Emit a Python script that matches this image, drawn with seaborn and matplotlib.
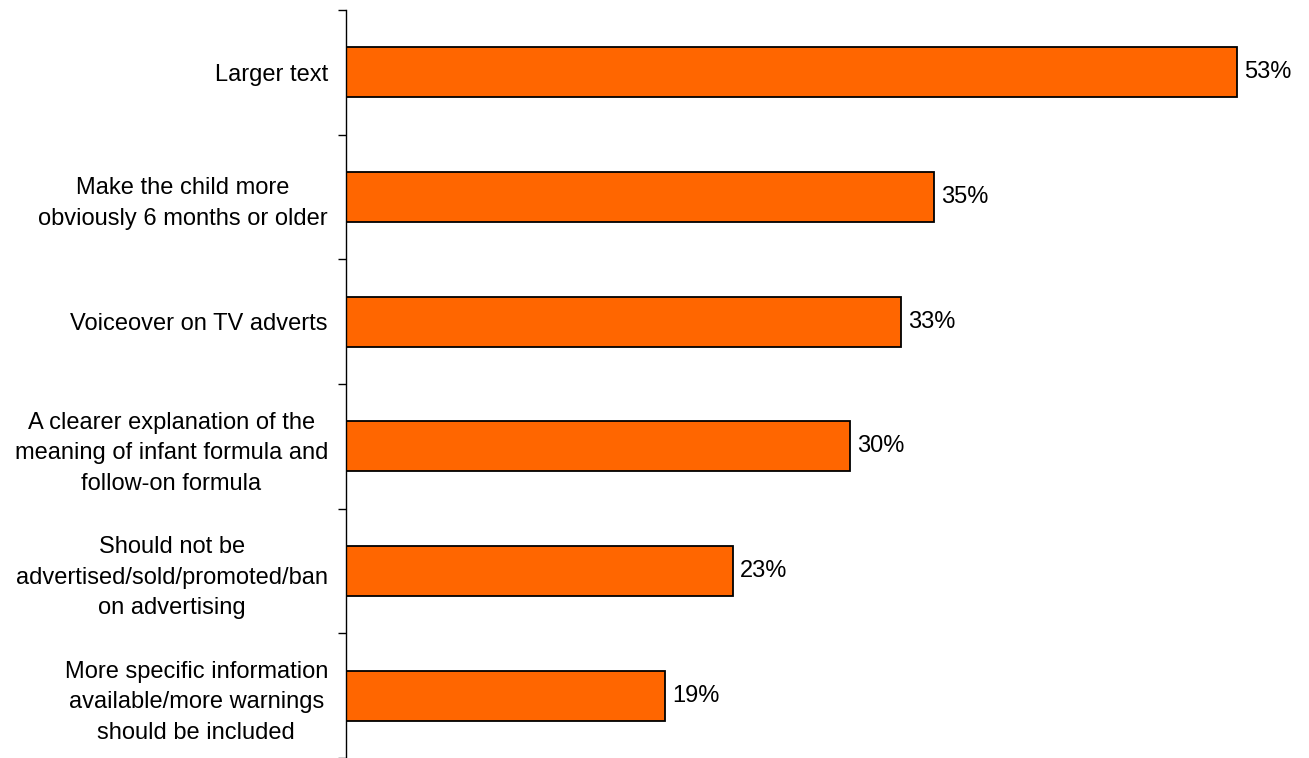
import matplotlib
matplotlib.use("Agg")
import matplotlib.pyplot as plt
import seaborn as sns
import pandas as pd
import numpy as np

categories = [
    "Larger text",
    "Make the child more\nobviously 6 months or older",
    "Voiceover on TV adverts",
    "A clearer explanation of the\nmeaning of infant formula and\nfollow-on formula",
    "Should not be\nadvertised/sold/promoted/ban\non advertising",
    "More specific information\navailable/more warnings\nshould be included",
]
values = [53, 35, 33, 30, 23, 19]

sns.set_theme(style="white")
plt.rcParams["font.family"] = ["Liberation Sans", "DejaVu Sans"]

df = pd.DataFrame({"category": categories, "value": values})

fig = plt.figure(figsize=(13.09, 7.58), dpi=100)
ax = fig.add_axes([346 / 1309, 0.0, (1300 - 346) / 1309, 1 - 10 / 758])

sns.barplot(data=df, x="value", y="category", orient="h", color="#FF6600",
            saturation=1, edgecolor="black", linewidth=1.3, width=0.4, ax=ax)

ax.set_xlim(0, (1300 - 346) / ((1237 - 346) / 53))
ax.set_ylim(len(categories) - 0.5, -0.5)

for c in ax.containers:
    ax.bar_label(c, labels=[f"{v}%" for v in values], padding=5,
                 fontsize=17, color="black")

ax.set_xlabel("")
ax.set_ylabel("")
ax.set_xticks([])
ax.set_yticks(range(len(categories)))
ax.set_yticklabels(categories, fontsize=17, color="black",
                   multialignment="center", linespacing=1.5)
ax.set_yticks(np.arange(-0.5, len(categories), 1.0), minor=True)
ax.tick_params(axis="y", which="major", length=0, pad=13, left=True)
ax.tick_params(axis="y", which="minor", length=6, width=1, color="black",
               left=True)

for s in ["top", "right", "bottom"]:
    ax.spines[s].set_visible(False)
ax.spines["left"].set_color("black")
ax.spines["left"].set_linewidth(1)

fig.savefig("out.png", dpi=100)
